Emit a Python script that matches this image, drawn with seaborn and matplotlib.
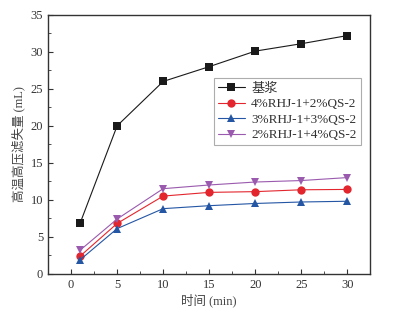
import pandas as pd
import seaborn as sns
import matplotlib.pyplot as plt
from matplotlib.ticker import MultipleLocator

# Data
time_min = [1, 5, 10, 15, 20, 25, 30]
base = [6.9, 20.0, 26.0, 28.0, 30.1, 31.1, 32.2]
mix_4_2 = [2.4, 6.8, 10.5, 11.0, 11.1, 11.35, 11.4]
mix_3_3 = [1.9, 6.1, 8.8, 9.2, 9.5, 9.7, 9.8]
mix_2_4 = [3.2, 7.4, 11.5, 12.0, 12.4, 12.6, 13.0]
series_names = ['基浆', '4%RHJ-1+2%QS-2', '3%RHJ-1+3%QS-2', '2%RHJ-1+4%QS-2']

rows = []
for name, vals in zip(series_names, [base, mix_4_2, mix_3_3, mix_2_4]):
    for t, v in zip(time_min, vals):
        rows.append({'time': t, 'loss': v, 'series': name})
df = pd.DataFrame(rows)

sns.set_style('ticks')
plt.rcParams['font.family'] = ['Liberation Serif', 'Noto Sans CJK SC']
plt.rcParams['axes.unicode_minus'] = False

colors = ['#1a1a1a', '#e3262e', '#2456a4', '#9a5aae']
markers = ['s', 'o', '^', 'v']

fig, ax = plt.subplots(figsize=(3.94, 3.10), dpi=100)
sns.lineplot(data=df, x='time', y='loss', hue='series', style='series',
             palette=colors, markers=markers, dashes=False, ax=ax,
             markersize=6, linewidth=0.8, markeredgewidth=0)

ax.set_xlim(-2.5, 32.5)
ax.set_ylim(0, 35)
ax.xaxis.set_major_locator(MultipleLocator(5))
ax.xaxis.set_minor_locator(MultipleLocator(2.5))
ax.yaxis.set_major_locator(MultipleLocator(5))
ax.yaxis.set_minor_locator(MultipleLocator(2.5))
ax.tick_params(which='both', direction='in', labelsize=9, colors='#333333')
ax.tick_params(which='major', length=3.5)
ax.tick_params(which='minor', length=2)
for sp in ax.spines.values():
    sp.set_visible(True)
    sp.set_color('#333333')
    sp.set_linewidth(1.0)

ax.set_xlabel('时间 (min)', fontsize=9, color='#444444', labelpad=2)
ax.set_ylabel('高温高压滤失量 (mL)', fontsize=9, color='#444444', labelpad=4)

leg = ax.legend(loc='upper right', bbox_to_anchor=(0.99, 0.78), fontsize=9.5,
                frameon=True, fancybox=False, handlelength=2.0,
                borderpad=0.3, labelspacing=0.25, handletextpad=0.5)
leg.get_frame().set_edgecolor('#999999')
leg.get_frame().set_linewidth(0.8)
for t in leg.get_texts():
    t.set_color('#333333')

fig.subplots_adjust(left=0.122, right=0.94, top=0.952, bottom=0.117)
fig.savefig('out.png', dpi=100)
